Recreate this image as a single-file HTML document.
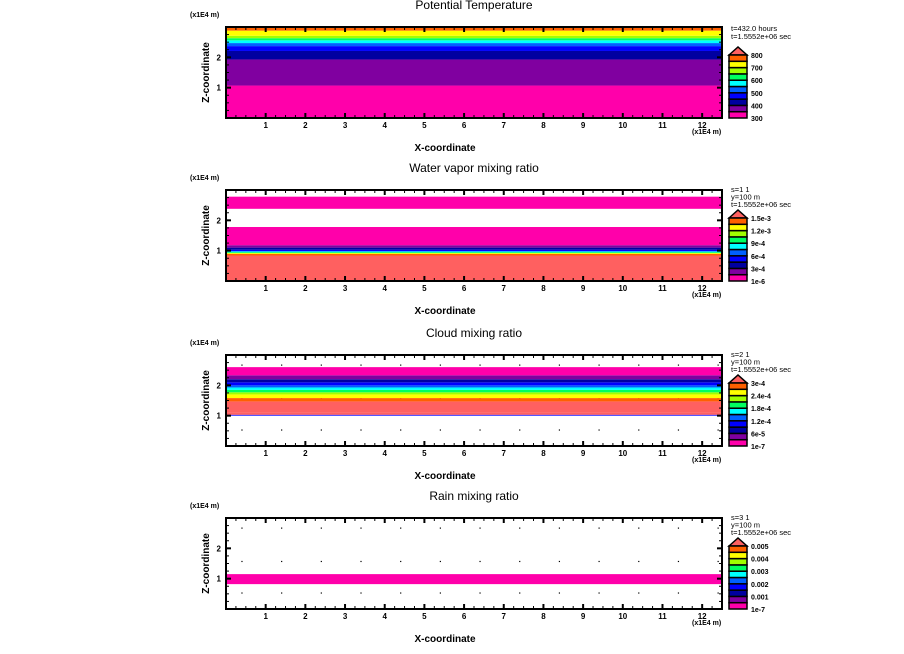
<!DOCTYPE html>
<html><head><meta charset="utf-8"><style>
body{margin:0;background:#fff}
svg{display:block;font-family:"Liberation Sans",sans-serif}
</style></head><body>
<svg id="s" width="904" height="654" viewBox="0 0 904 654"></svg>
<script>
const xTicks=[1,2,3,4,5,6,7,8,9,10,11,12];
const zTicks=[1,2];
const titles=["Potential Temperature","Water vapor mixing ratio","Cloud mixing ratio","Rain mixing ratio"];
const cbLabels=[["800","700","600","500","400","300"],["1.5e-3","1.2e-3","9e-4","6e-4","3e-4","1e-6"],["3e-4","2.4e-4","1.8e-4","1.2e-4","6e-5","1e-7"],["0.005","0.004","0.003","0.002","0.001","1e-7"]];
const infoText=[["t=432.0 hours","t=1.5552e+06 sec"],["s=1 1","y=100 m","t=1.5552e+06 sec"],["s=2 1","y=100 m","t=1.5552e+06 sec"],["s=3 1","y=100 m","t=1.5552e+06 sec"]];
const palette=["#ff00aa","#8000a0","#0000a0","#0000ff","#0060ff","#00ffff","#00ff60","#a0ff00","#ffff00","#ff6000"];
const overColor="#ff6060";
// bands: [zBottom, zTop, colorIndex] (-1 = over colour)
const bands0=[[0,1.07,0],[1.07,1.93,1],[1.93,2.21,2],[2.21,2.37,3],[2.37,2.47,4],[2.47,2.56,5],[2.56,2.63,6],[2.63,2.71,7],[2.71,2.88,8],[2.88,3.0,9]];
const bands1=[[0,0.84,-1],[0.84,0.89,9],[0.89,0.92,8],[0.92,0.95,6],[0.95,0.98,5],[0.98,1.03,3],[1.03,1.1,2],[1.1,1.18,1],[1.18,1.78,0],[2.38,2.78,0]];
const bands2=[[1.0,1.03,3],[1.03,1.1,-1],[1.1,1.47,-1],[1.47,1.58,9],[1.58,1.7,8],[1.7,1.77,7],[1.77,1.85,6],[1.85,1.93,5],[1.93,2.0,4],[2.0,2.1,3],[2.1,2.2,2],[2.2,2.33,1],[2.33,2.6,0]];
const bands3=[[0.82,1.15,0]];
const allBands=[bands0,bands1,bands2,bands3];
const dotsX=[0.4,1.4,2.4,3.4,4.4,5.4,6.4,7.4,8.4,9.4,10.4,11.4,12.4];
const dotsZ=[0.53,1.57,2.67];
const xMax=12.5,zMax=3;
const L=226,R=722,H=91,tops=[27,190,355,518];
const svg=document.getElementById('s'),NS="http://www.w3.org/2000/svg";
function mk(t,a,p){const e=document.createElementNS(NS,t);for(const k in a)e.setAttribute(k,a[k]);(p||svg).appendChild(e);return e;}
function txt(s,a,p){const e=mk('text',a,p);e.textContent=s;return e;}
tops.forEach((T,pi)=>{
 const g=mk('g',{});
 
 
 const xs=v=>L+v/xMax*(R-L), zs=v=>T+H-v/zMax*H;
 if(pi>0){dotsX.forEach(dx=>dotsZ.forEach(dz=>{const d=mk('rect',{x:xs(dx)-0.5,y:zs(dz)-0.5,width:1.2,height:1.2,fill:'#000'},g);}));}
 allBands[pi].forEach(b=>{const r=mk('rect',{x:L,y:zs(b[1]),width:R-L,height:zs(b[0])-zs(b[1]),fill:b[2]<0?overColor:palette[b[2]]},g);});
 const box=mk('rect',{x:L,y:T,width:R-L,height:H,fill:'none',stroke:'#000','stroke-width':2},g);
 
 for(let v=0.25;v<xMax;v+=0.25){const maj=Math.abs(v-Math.round(v))<1e-6;const l=maj?5:3;mk('line',{x1:xs(v),x2:xs(v),y1:T+H,y2:T+H-l,stroke:'#000','stroke-width':maj?2:1},g);mk('line',{x1:xs(v),x2:xs(v),y1:T,y2:T+l,stroke:'#000','stroke-width':maj?2:1},g);}
 for(let v=0.25;v<zMax;v+=0.25){const maj=Math.abs(v-Math.round(v))<1e-6;const l=maj?5:3;mk('line',{x1:L,x2:L+l,y1:zs(v),y2:zs(v),stroke:'#000','stroke-width':maj?2:1},g);mk('line',{x1:R,x2:R-l,y1:zs(v),y2:zs(v),stroke:'#000','stroke-width':maj?2:1},g);}
 xTicks.forEach(v=>{const t=txt(String(v),{x:xs(v),y:T+H+10,'font-size':8,'font-weight':'bold','text-anchor':'middle'},g);});
 zTicks.forEach(v=>{const t=txt(String(v),{x:L-5,y:zs(v)+3,'font-size':8,'font-weight':'bold','text-anchor':'end'},g);});
 let t=txt(titles[pi],{x:474,y:T-18,'font-size':12,'text-anchor':'middle'},g);
 t=txt('X-coordinate',{x:445,y:T+H+33,'font-size':10,'font-weight':'bold','text-anchor':'middle'},g);
 t=txt('Z-coordinate',{x:0,y:0,'font-size':10,'font-weight':'bold','text-anchor':'middle',transform:`translate(209,${T+H/2}) rotate(-90)`},g);
 t=txt('(x1E4 m)',{x:190,y:T-10,'font-size':7,'font-weight':'bold'},g);
 t=txt('(x1E4 m)',{x:692,y:T+H+16,'font-size':7,'font-weight':'bold'},g);
 infoText[pi].forEach((s,i)=>{const y=pi==0?T+4+i*8:T+2+i*7.5;const e=txt(s,{x:731,y:y,'font-size':7.5},g);});
 // colorbar
 const cx=729,cw=18,cTop=T+28,cBot=T+91,bh=(cBot-cTop)/palette.length;
 const ar=mk('polygon',{points:`${cx},${cTop} ${cx+cw/2},${T+20} ${cx+cw},${cTop}`,fill:overColor,stroke:'#000','stroke-width':1.5},g);
 
 palette.forEach((c,i)=>{const r=mk('rect',{x:cx,y:cBot-(i+1)*bh,width:cw,height:bh,fill:c,stroke:'#000','stroke-width':1.5},g);});
 cbLabels[pi].forEach((s,i)=>{const e=txt(s,{x:751,y:cTop+i*2*bh+3,'font-size':7,'font-weight':'bold'},g);});
});
</script>
</body></html>
